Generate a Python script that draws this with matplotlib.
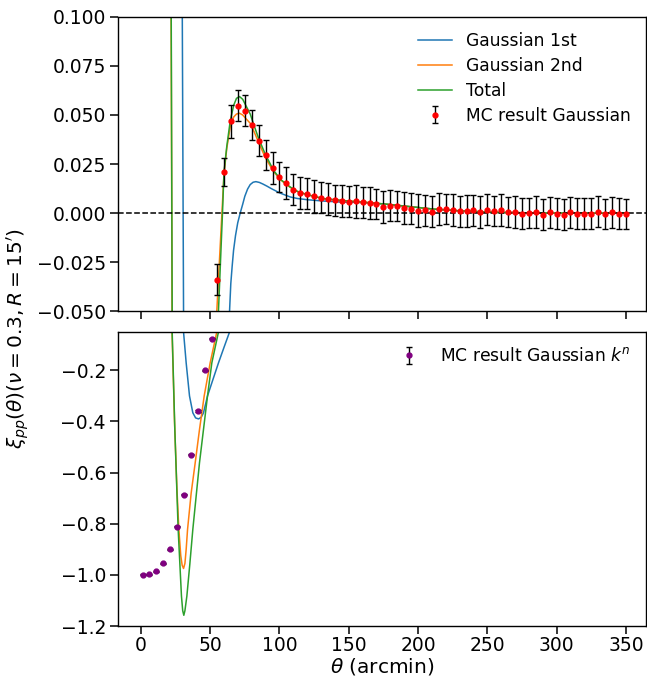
import matplotlib
matplotlib.use('Agg')
from matplotlib import pyplot as plt
import numpy as np

# MC result Gaussian (red points with error bars)
theta_mc = [55, 60, 65, 70, 75, 80, 85, 90, 95, 100,
            105, 110, 115, 120, 125, 130, 135, 140, 145, 150,
            155, 160, 165, 170, 175, 180, 185, 190, 195, 200,
            205, 210, 215, 220, 225, 230, 235, 240, 245, 250,
            255, 260, 265, 270, 275, 280, 285, 290, 295, 300,
            305, 310, 315, 320, 325, 330, 335, 340, 345, 350]
xi_mc = [-0.0340, 0.0209, 0.0469, 0.0548, 0.0522, 0.0449, 0.0369, 0.0294, 0.0230, 0.0184,
         0.0153, 0.0119, 0.0104, 0.0099, 0.0085, 0.0078, 0.0070, 0.0065, 0.0061, 0.0058,
         0.0060, 0.0056, 0.0051, 0.0048, 0.0031, 0.0037, 0.0036, 0.0024, 0.0022, 0.0012,
         0.0014, 0.0007, 0.0020, 0.0020, 0.0015, 0.0010, 0.0010, 0.0014, 0.0007, 0.0017,
         0.0010, 0.0015, 0.0005, 0.0005, -0.0003, 0.0002, 0.0005, -0.0009, 0.0003, -0.0003,
         -0.0010, 0.0003, -0.0003, -0.0003, -0.0003, 0.0007, -0.0005, 0.0003, -0.0003, -0.0003]
err_mc = [0.0078, 0.0073, 0.0084, 0.0078, 0.0078, 0.0076, 0.0079, 0.0077, 0.0080, 0.0078,
          0.0081, 0.0079, 0.0082, 0.0080, 0.0083, 0.0079, 0.0081, 0.0078, 0.0082, 0.0080,
          0.0084, 0.0079, 0.0081, 0.0077, 0.0082, 0.0080, 0.0078, 0.0081, 0.0079, 0.0083,
          0.0078, 0.0080, 0.0082, 0.0077, 0.0081, 0.0079, 0.0080, 0.0078, 0.0082, 0.0079,
          0.0076, 0.0080, 0.0078, 0.0081, 0.0079, 0.0077, 0.0082, 0.0080, 0.0078, 0.0081,
          0.0079, 0.0077, 0.0080, 0.0078, 0.0081, 0.0079, 0.0077, 0.0080, 0.0078, 0.0077]

# MC result Gaussian k^n (purple points)
theta_kn = [1.2, 6.2, 11.2, 16.2, 21.2, 26.2, 31.2, 36.2, 41.2, 46.2, 51.2]
xi_kn = [-1.0, -0.997, -0.985, -0.955, -0.899, -0.812, -0.687, -0.531, -0.359, -0.200, -0.077]
err_kn = [0.002] * 11

# Gaussian 1st
theta_g1 = [20, 28, 29.9, 30.8, 32.7, 35.1, 37.5, 39.5, 41.6, 43.5, 45.2, 48.1, 52.0, 56.0,
            60.0, 64.0, 64.9, 65.9, 66.9, 68.3, 69.9, 71.7, 73.5, 75.0, 77.0, 78.9, 81.0,
            83.0, 85.5, 88.0, 91.0, 94.0, 100.0, 107.7, 113.0, 119.8, 131.8, 143.8, 156.0,
            168.0, 180.0, 192.0, 211.0, 230.0, 257.0, 290.0, 320.0, 350.0]
xi_g1 = [5.0, 0.6, 0.1, -0.05, -0.171, -0.300, -0.366, -0.386, -0.390, -0.384, -0.366, -0.300,
         -0.236, -0.171, -0.110, -0.050, -0.036, -0.027, -0.019, -0.0115, -0.005, 0.0, 0.0045,
         0.0085, 0.0122, 0.0145, 0.0157, 0.0160, 0.0156, 0.0148, 0.0137, 0.0125, 0.0103,
         0.0082, 0.0074, 0.0068, 0.0061, 0.0056, 0.0054, 0.0050, 0.0043, 0.0034, 0.0020,
         0.0011, 0.0003, 0.0, -0.0001, -0.0001]

# Gaussian 2nd
theta_g2 = [10, 18, 21, 22.5, 24.3, 26.0, 27.4, 28.8, 29.8, 30.8, 31.8, 32.7, 33.7, 36.3,
            39.2, 42.3, 45.7, 50.0, 54.8, 58.5, 60.0, 62.0, 64.5, 67.0, 69.0, 71.2, 73.5,
            76.0, 78.9, 82.0, 85.0, 89.7, 95.7, 101.0, 107.7, 113.0, 119.8, 131.8, 143.8,
            155.0, 167.9, 180.0, 192.0, 211.0, 230.0, 257.0, 290.0, 320.0, 350.0]
xi_g2 = [3.0, 0.9, 0.3, -0.05, -0.40, -0.66, -0.82, -0.925, -0.962, -0.975, -0.955, -0.90,
         -0.822, -0.68, -0.562, -0.432, -0.300, -0.171, -0.050, 0.0, 0.020, 0.033, 0.044,
         0.049, 0.0505, 0.0509, 0.0500, 0.0480, 0.0458, 0.0410, 0.0360, 0.0284, 0.0212,
         0.0168, 0.0131, 0.0110, 0.0094, 0.0073, 0.0065, 0.0058, 0.0051, 0.0043, 0.0034,
         0.0020, 0.0011, 0.0003, 0.0, -0.0001, -0.0001]

# Total
theta_tot = [10, 18, 21, 22.6, 24.5, 26.9, 29.3, 30.2, 31.0, 31.8, 33.2, 35.3, 37.5, 42.3,
             48.1, 51.2, 56.0, 58.9, 60.0, 62.0, 64.5, 67.0, 69.0, 71.2, 73.5, 76.0, 78.9,
             82.0, 85.0, 89.7, 95.7, 101.0, 107.7, 113.0, 119.8, 131.8, 143.8, 155.0, 167.9,
             180.0, 192.0, 211.0, 230.0, 257.0, 290.0, 320.0, 350.0]
xi_tot = [3.0, 0.9, 0.3, -0.05, -0.43, -0.82, -1.083, -1.14, -1.158, -1.14, -1.083, -0.96,
          -0.822, -0.562, -0.300, -0.171, -0.050, 0.0, 0.021, 0.034, 0.047, 0.055, 0.0585,
          0.0594, 0.0580, 0.0545, 0.0505, 0.0440, 0.0380, 0.0301, 0.0218, 0.0170, 0.0133,
          0.0110, 0.0094, 0.0073, 0.0065, 0.0058, 0.0051, 0.0043, 0.0034, 0.0020, 0.0011,
          0.0003, 0.0, -0.0001, -0.0001]

plt.rcParams['font.family'] = 'DejaVu Sans'
plt.rcParams['axes.linewidth'] = 1.0

fig = plt.figure(figsize=(6.47, 6.77), dpi=100)
ax1 = fig.add_axes([0.183, 0.5406, 0.8155, 0.4343])
ax2 = fig.add_axes([0.183, 0.0753, 0.8155, 0.4343], sharex=ax1)

for ax in (ax1, ax2):
    ax.plot(theta_g1, xi_g1, color='C0', lw=1.1, label='Gaussian 1st')
    ax.plot(theta_g2, xi_g2, color='C1', lw=1.1, label='Gaussian 2nd')
    ax.plot(theta_tot, xi_tot, color='C2', lw=1.1, label='Total')
    ax.tick_params(axis='both', labelsize=13.5, length=5.5, width=1.1)
    ax.tick_params(axis='x', pad=2.0)

ax1.errorbar(theta_mc, xi_mc, yerr=err_mc, fmt='o', color='red', ms=3.5,
             ecolor='k', elinewidth=1.0, capsize=2, capthick=1.0, zorder=5,
             label='MC result Gaussian')
ax1.axhline(0, color='k', ls='--', lw=1.1)
ax1.set_ylim(-0.05, 0.1)
ax1.legend(loc='upper right', frameon=False, fontsize=12.3, labelspacing=0.4)
plt.setp(ax1.get_xticklabels(), visible=False)

ax2.errorbar(theta_kn, xi_kn, yerr=err_kn, fmt='o', color='purple', ms=3.5,
             ecolor='k', elinewidth=1.0, capsize=2, capthick=1.0, zorder=5,
             label='MC result Gaussian $k^n$')
ax2.set_ylim(-1.2, -0.05)
ax2.set_xlim(-16.2, 364.5)
ax2.set_xticks(np.arange(0, 351, 50))
h, l = ax2.get_legend_handles_labels()
ax2.legend([h[-1]], [l[-1]], loc='upper right', frameon=False, fontsize=12.3)
ax2.set_xlabel(r'$\theta$ (arcmin)', fontsize=14.5, labelpad=0.5)

fig.text(0.028, 0.5, r"$\xi_{pp}(\theta)(\nu=0.3, R=15')$", rotation=90,
         va='center', ha='center', fontsize=14.5)

fig.savefig('out.png', dpi=100)
